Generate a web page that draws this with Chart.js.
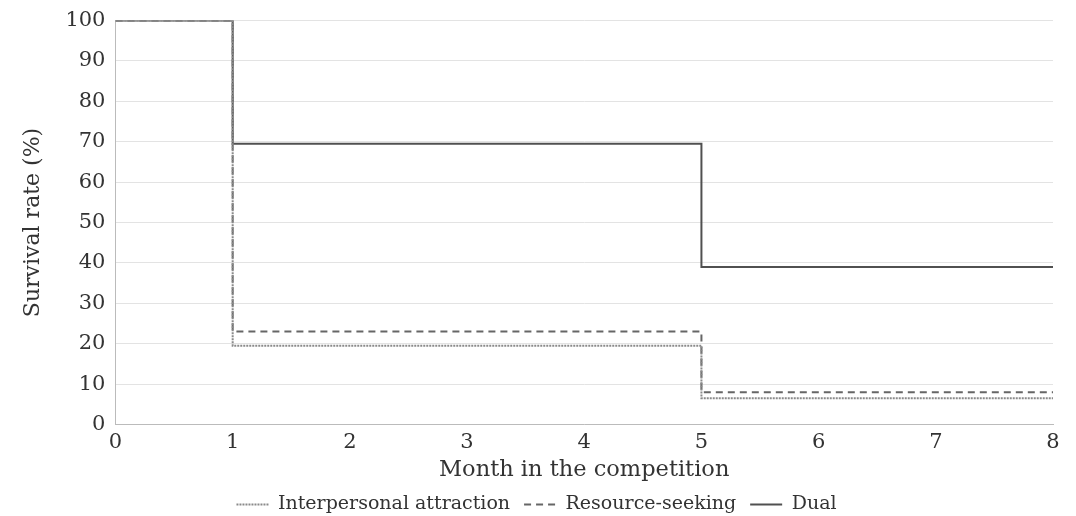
<!DOCTYPE html>
<html>
<head>
<meta charset="utf-8">
<script src="https://cdn.jsdelivr.net/npm/chart.js@4"></script>
<style>
  html, body { margin: 0; padding: 0; background: #fff; }
  #wrap { width: 1076px; height: 516px; }
</style>
</head>
<body>
<div id="wrap"><canvas id="survivalChart"></canvas></div>
<script>
// months where the survival rate changes (last one is the end of the competition)
const months = [0, 1, 5, 8];
const interpersonal = [100, 19.5, 6.5, 6.5];
const resourceSeeking = [100, 23, 8, 8];
const dual = [100, 69.5, 39, 39];

const toPoints = (vals) => months.map((m, i) => ({ x: m, y: vals[i] }));

const ctx = document.getElementById("survivalChart").getContext("2d");
const serif = "'DejaVu Serif', 'Liberation Serif', serif";

const chart = new Chart(ctx, {
  type: "line",
  data: {
    datasets: [
      {
        label: "Interpersonal attraction",
        data: toPoints(interpersonal),
        stepped: true,
        borderColor: "#8a8a8a",
        borderWidth: 2,
        borderDash: [2, 1],
        pointRadius: 0,
        fill: false,
      },
      {
        label: "Resource-seeking",
        data: toPoints(resourceSeeking),
        stepped: true,
        borderColor: "#666",
        borderWidth: 2,
        borderDash: [7, 5],
        pointRadius: 0,
        fill: false,
      },
      {
        label: "Dual",
        data: toPoints(dual),
        stepped: true,
        borderColor: "#505050",
        borderWidth: 2,
        pointRadius: 0,
        fill: false,
      },
    ],
  },
  options: {
    responsive: true,
    maintainAspectRatio: false,
    animation: false,
    layout: { padding: { left: 20, right: 23, top: 0, bottom: -8 } },
    plugins: {
      tooltip: { enabled: false },
      legend: {
        position: "bottom",
        labels: {
          usePointStyle: true,
          pointStyle: "line",
          pointStyleWidth: 32,
          boxHeight: 10,
          color: "#333",
          padding: 14,
          font: { family: serif, size: 19 },
          // point style items lose the dash, so copy it from the dataset
          generateLabels: (c) =>
            Chart.defaults.plugins.legend.labels
              .generateLabels(c)
              .map((item) => ({
                ...item,
                lineDash: c.data.datasets[item.datasetIndex].borderDash || [],
              })),
        },
      },
    },
    scales: {
      x: {
        type: "linear",
        min: 0,
        max: 8,
        ticks: {
          stepSize: 1,
          color: "#333",
          padding: 0,
          font: { family: serif, size: 21, lineHeight: 1 },
        },
        grid: { display: false },
        border: { color: "#bbb" },
        title: {
          display: true,
          text: "Month in the competition",
          color: "#333",
          padding: { top: 5, bottom: 0 },
          font: { family: serif, size: 22.5, lineHeight: 1 },
        },
      },
      y: {
        min: 0,
        max: 100,
        ticks: {
          stepSize: 10,
          color: "#333",
          padding: 10,
          font: { family: serif, size: 21, lineHeight: 1 },
        },
        grid: { color: "#e3e3e3", drawTicks: false },
        border: { color: "#bbb" },
        title: {
          display: true,
          text: "Survival rate (%)",
          color: "#333",
          padding: { top: 0, bottom: 9 },
          font: { family: serif, size: 22 },
        },
      },
    },
  },
});
</script>
</body>
</html>
